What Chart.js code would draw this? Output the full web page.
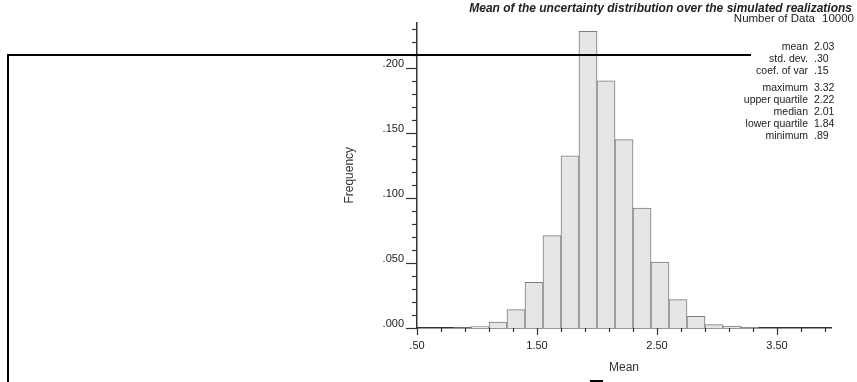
<!DOCTYPE html>
<html>
<head>
<meta charset="utf-8">
<script src="https://cdn.jsdelivr.net/npm/chart.js@4.4.1/dist/chart.umd.min.js"></script>
<style>
  html, body { margin: 0; padding: 0; background: #fff; }
  #wrap { width: 857px; height: 382px; position: relative; }
</style>
</head>
<body>
<div id="wrap"><canvas id="hist"></canvas></div>
<script>
// histogram of the realization means: class edges and frequency per class
const binLower = [0.50, 0.65, 0.80, 0.95, 1.10, 1.25, 1.40, 1.55, 1.70, 1.85, 2.00, 2.15,
                  2.30, 2.45, 2.60, 2.75, 2.90, 3.05, 3.20, 3.35, 3.50, 3.65, 3.80];
const binWidth = 0.15;
const frequency = [0, 0, 0.0002, 0.0011, 0.0046, 0.0141, 0.0351, 0.0710, 0.1325, 0.2282, 0.1902, 0.1449,
                   0.0923, 0.0508, 0.0218, 0.0090, 0.0026, 0.0015, 0.0004, 0, 0, 0, 0];

const xTickValues = [0.5, 1.5, 2.5, 3.5];
const xTickLabels = ['.50', '1.50', '2.50', '3.50'];
const yTickValues = [0, 0.05, 0.10, 0.15, 0.20];
const yTickLabels = ['.000', '.050', '.100', '.150', '.200'];

const statLabels = ['Number of Data', 'mean', 'std. dev.', 'coef. of var',
                    'maximum', 'upper quartile', 'median', 'lower quartile', 'minimum'];
const statValues = ['10000', '2.03', '.30', '.15', '3.32', '2.22', '2.01', '1.84', '.89'];

const titleText = 'Mean of the uncertainty distribution over the simulated realizations';
const FONT = '"Liberation Sans", Arial, Helvetica, sans-serif';
const INK = '#222';

// minor tick marks on both axes + title, stats block and axis names
const gslibDecor = {
  id: 'gslibDecor',
  afterDraw(chart) {
    const ctx = chart.ctx;
    const xs = chart.scales.x, ys = chart.scales.y;
    const area = chart.chartArea;
    ctx.save();
    ctx.strokeStyle = '#333';
    ctx.lineWidth = 1.2;

    // y ticks every .01, long ones on the labelled values
    for (let k = 0; k <= 23; k++) {
      const v = k / 100;
      const py = Math.round(ys.getPixelForValue(v)) + 0.5;
      const len = (k % 5 === 0) ? 11 : 5;
      ctx.beginPath();
      ctx.moveTo(area.left - len, py);
      ctx.lineTo(area.left, py);
      ctx.stroke();
    }
    // x ticks every .2 from .5
    for (let k = 0; k <= 17; k++) {
      const v = 0.5 + k * 0.2;
      const px = Math.round(xs.getPixelForValue(v)) + 0.5;
      const len = (k % 5 === 0) ? 7 : 4;
      ctx.beginPath();
      ctx.moveTo(px, area.bottom);
      ctx.lineTo(px, area.bottom + len);
      ctx.stroke();
    }

    ctx.fillStyle = INK;
    // title
    ctx.font = 'italic bold 12px ' + FONT;
    ctx.textAlign = 'right';
    ctx.textBaseline = 'middle';
    ctx.fillText(titleText, 852, 9);

    // summary statistics
    ctx.font = '11.5px ' + FONT;
    ctx.textAlign = 'right';
    ctx.fillText(statLabels[0], 815, 19);
    ctx.textAlign = 'left';
    ctx.fillText(statValues[0], 822, 19);
    ctx.font = '10.5px ' + FONT;
    const rowY = [19, 47, 59, 71, 88, 100, 112, 124, 136];
    for (let i = 1; i < statLabels.length; i++) {
      ctx.textAlign = 'right';
      ctx.fillText(statLabels[i], 808, rowY[i]);
      ctx.textAlign = 'left';
      ctx.fillText(statValues[i], 814, rowY[i]);
    }

    // axis names
    ctx.font = '12px ' + FONT;
    ctx.fillStyle = '#333';
    ctx.textAlign = 'center';
    ctx.fillText('Mean', (area.left + area.right) / 2, 368);
    ctx.save();
    ctx.translate(350, (area.top + area.bottom) / 2);
    ctx.rotate(-Math.PI / 2);
    ctx.fillText('Frequency', 0, 0);
    ctx.restore();

    // black frame lines crossing the page
    ctx.strokeStyle = '#000';
    ctx.lineWidth = 2;
    ctx.beginPath();
    ctx.moveTo(7, 55);
    ctx.lineTo(751, 55);
    ctx.moveTo(8, 54);
    ctx.lineTo(8, 382);
    ctx.moveTo(590, 381);
    ctx.lineTo(603, 381);
    ctx.stroke();
    ctx.restore();
  }
};

const points = binLower.map((lo, i) => ({ x: lo + binWidth / 2, y: frequency[i] }));

new Chart(document.getElementById('hist'), {
  type: 'bar',
  data: {
    datasets: [{
      data: points,
      backgroundColor: '#e6e6e6',
      borderColor: '#7d7d7d',
      borderWidth: 1,
      barPercentage: 1,
      categoryPercentage: 1
    }]
  },
  options: {
    responsive: true,
    maintainAspectRatio: false,
    animation: false,
    events: [],
    layout: { padding: { top: 22.5, right: 26, left: 0, bottom: 0 } },
    plugins: { legend: { display: false }, tooltip: { enabled: false }, title: { display: false } },
    scales: {
      x: {
        type: 'linear',
        offset: false,
        min: 0.5,
        max: 3.95,
        afterBuildTicks: (s) => { s.ticks = xTickValues.map(v => ({ value: v })); },
        afterFit: (s) => { s.height = 54; },
        grid: { display: false, drawTicks: false, offset: false },
        border: { display: true, color: '#333', width: 1.5 },
        ticks: {
          autoSkip: false,
          maxRotation: 0,
          padding: 11,
          color: INK,
          font: { family: FONT, size: 11 },
          callback: (v) => xTickLabels[xTickValues.indexOf(v)]
        }
      },
      y: {
        min: 0,
        max: 0.235,
        afterBuildTicks: (s) => { s.ticks = yTickValues.map(v => ({ value: v })); },
        afterFit: (s) => { s.width = 417; },
        grid: { display: false, drawTicks: false },
        border: { display: true, color: '#333', width: 1.5 },
        ticks: {
          padding: 13,
          labelOffset: -4,
          color: INK,
          font: { family: FONT, size: 11 },
          callback: (v) => yTickLabels[yTickValues.indexOf(v)]
        }
      }
    }
  },
  plugins: [gslibDecor]
});
</script>
</body>
</html>
